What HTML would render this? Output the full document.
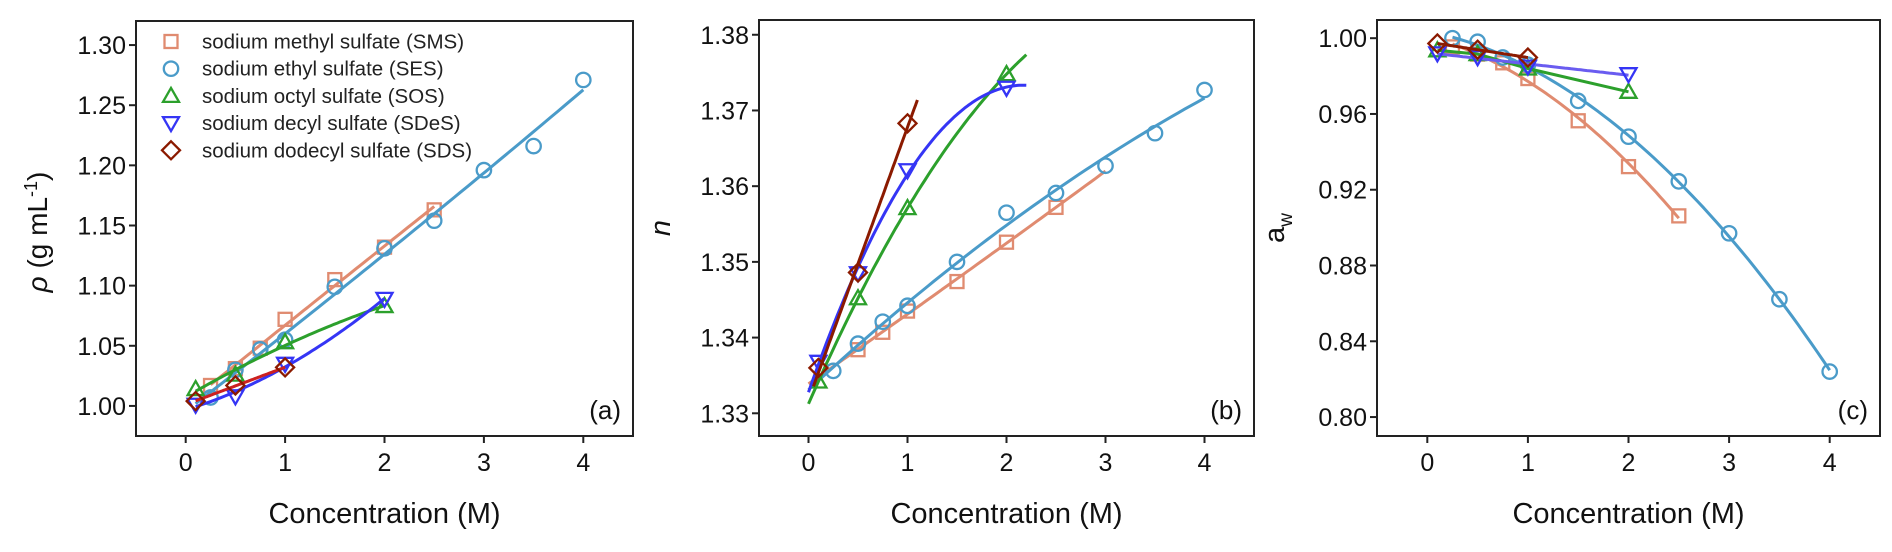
<!DOCTYPE html>
<html><head><meta charset="utf-8">
<style>
html,body{margin:0;padding:0;background:#fff;}
svg{display:block;font-family:"Liberation Sans",Arial,sans-serif;}
</style></head>
<body>
<svg id="fig" width="1892" height="552" viewBox="0 0 1892 552" xmlns="http://www.w3.org/2000/svg"></svg>
<script>
// ---------- data ----------
const seriesNames = ["sodium methyl sulfate (SMS)","sodium ethyl sulfate (SES)","sodium octyl sulfate (SOS)","sodium decyl sulfate (SDeS)","sodium dodecyl sulfate (SDS)"];
const seriesKeys = ["sms","ses","sos","sdes","sds"];
const xTicks = [0,1,2,3,4];
const aTicks = [1.00,1.05,1.10,1.15,1.20,1.25,1.30];
const bTicks = [1.33,1.34,1.35,1.36,1.37,1.38];
const cTicks = [0.80,0.84,0.88,0.92,0.96,1.00];

// panel (a) density
const aSmsX = [0.25,0.5,0.75,1,1.5,2,2.5];
const aSmsY = [1.017,1.031,1.048,1.072,1.105,1.132,1.163];
const aSesX = [0.25,0.5,0.75,1,1.5,2,2.5,3,3.5,4];
const aSesY = [1.007,1.030,1.047,1.055,1.099,1.131,1.154,1.196,1.216,1.271];
const aSosX = [0.1,0.5,1,2];
const aSosY = [1.014,1.026,1.053,1.083];
const aSdesX = [0.1,0.5,1,2];
const aSdesY = [1.001,1.008,1.035,1.089];
const aSdsX = [0.1,0.5,1];
const aSdsY = [1.004,1.017,1.032];

// panel (b) refractive index
const bSmsX = [0.5,0.75,1,1.5,2,2.5];
const bSmsY = [1.3384,1.3407,1.3435,1.3474,1.3526,1.3572];
const bSesX = [0.25,0.5,0.75,1,1.5,2,2.5,3,3.5,4];
const bSesY = [1.3356,1.3392,1.3421,1.3442,1.3500,1.3565,1.3591,1.3627,1.3670,1.3727];
const bSosX = [0.1,0.5,1,2];
const bSosY = [1.3342,1.3452,1.3571,1.3748];
const bSdesX = [0.1,0.5,1,2];
const bSdesY = [1.3368,1.3485,1.3621,1.3730];
const bSdsX = [0.1,0.5,1];
const bSdsY = [1.3360,1.3486,1.3683];

// panel (c) water activity
const cSmsX = [0.25,0.5,0.75,1,1.5,2,2.5];
const cSmsY = [0.9954,0.9916,0.9870,0.9787,0.9564,0.9322,0.9062];
const cSesX = [0.25,0.5,0.75,1,1.5,2,2.5,3,3.5,4];
const cSesY = [1.0000,0.9981,0.9898,0.9860,0.9669,0.9480,0.9244,0.8970,0.8622,0.8240];
const cSosX = [0.1,0.5,1,2];
const cSosY = [0.9936,0.9916,0.9840,0.9717];
const cSdesX = [0.1,0.5,1,2];
const cSdesY = [0.9920,0.9900,0.9850,0.9810];
const cSdsX = [0.1,0.5,1];
const cSdsY = [0.9972,0.9939,0.9898];

// ---------- rendering ----------
const NS = "http://www.w3.org/2000/svg";
const svg = document.getElementById("fig");
const colors = {sms:"#e08b70", ses:"#4a9bc9", sos:"#2ca02c", sdes:"#3535f5", sds:"#8b1a00"};
const lineColors = {sms:"#e08b70", ses:"#4a9bc9", sos:"#2ca02c", sdes:"#3535f5", sds:"#8b1a00"};
function mk(tag, attrs, parent){const e=document.createElementNS(NS,tag);for(const k in attrs)e.setAttribute(k,attrs[k]);(parent||svg).appendChild(e);return e;}

function polyfit(xs, ys, deg){
  const n=deg+1; const A=[];
  for(let i=0;i<n;i++){A.push(new Array(n+1).fill(0));}
  for(let k=0;k<xs.length;k++){
    for(let i=0;i<n;i++){
      for(let j=0;j<n;j++) A[i][j]+=Math.pow(xs[k],i+j);
      A[i][n]+=ys[k]*Math.pow(xs[k],i);
    }
  }
  for(let i=0;i<n;i++){
    let p=i;for(let r=i+1;r<n;r++) if(Math.abs(A[r][i])>Math.abs(A[p][i])) p=r;
    [A[i],A[p]]=[A[p],A[i]];
    for(let r=0;r<n;r++){ if(r===i) continue; const f=A[r][i]/A[i][i]; for(let c=i;c<=n;c++) A[r][c]-=f*A[i][c]; }
  }
  return A.map((row,i)=>row[n]/row[i]);
}
function evalp(c,x){let s=0;for(let i=0;i<c.length;i++) s+=c[i]*Math.pow(x,i);return s;}

function marker(g, key, px, py){
  const c=colors[key]; let e;
  if(key==="sms") e=mk("rect",{x:px-6.5,y:py-6.5,width:13,height:13,fill:"none",stroke:c,"stroke-width":2.3},g);
  else if(key==="ses") e=mk("circle",{cx:px,cy:py,r:7.2,fill:"none",stroke:c,"stroke-width":2.3},g);
  else if(key==="sos") e=mk("polygon",{points:`${px},${py-8} ${px+8},${py+6} ${px-8},${py+6}`,fill:"none",stroke:c,"stroke-width":2.3},g);
  else if(key==="sdes") e=mk("polygon",{points:`${px},${py+8} ${px+8},${py-6} ${px-8},${py-6}`,fill:"none",stroke:c,"stroke-width":2.3},g);
  else e=mk("polygon",{points:`${px},${py-9} ${px+9},${py} ${px},${py+9} ${px-9},${py}`,fill:"none",stroke:c,"stroke-width":2.3},g);
  
  
  return e;
}

function panel(cfg){
  const g=mk("g",{});
  
  
  const sx=v=>cfg.L+(v-cfg.xmin)/(cfg.xmax-cfg.xmin)*(cfg.R-cfg.L);
  const sy=v=>cfg.B-(v-cfg.ymin)/(cfg.ymax-cfg.ymin)*(cfg.B-cfg.T);
  xTicks.forEach(t=>{
    const x=sx(t);
    const l=mk("line",{x1:x,y1:cfg.B,x2:x,y2:cfg.B+7,stroke:"#222","stroke-width":2},g);
    
    
    const tx=mk("text",{x:x,y:cfg.B+35,"font-size":25,"text-anchor":"middle",fill:"#111"},g);
    tx.textContent=t;
    
    
  });
  cfg.yTicks.forEach(t=>{
    const y=sy(t);
    const l=mk("line",{x1:cfg.L-7,y1:y,x2:cfg.L,y2:y,stroke:"#222","stroke-width":2},g);
    
    
    const tx=mk("text",{x:cfg.L-10,y:y+9,"font-size":25,"text-anchor":"end",fill:"#111"},g);
    tx.textContent=t.toFixed(2);
    
    
  });
  cfg.series.forEach(s=>{
    const sg=mk("g",{},g);
    
    
    let pts=[];
    if(s.fit==="poly"){
      const coef=polyfit(s.x,s.y,s.deg);
      const x0=s.from!==undefined?s.from:s.x[0], x1=s.to!==undefined?s.to:s.x[s.x.length-1];
      for(let i=0;i<=60;i++){const xv=x0+(x1-x0)*i/60;pts.push(sx(xv).toFixed(1)+","+sy(evalp(coef,xv)).toFixed(1));}
    } else {
      pts=s.x.map((xv,i)=>sx(xv).toFixed(1)+","+sy(s.y[i]).toFixed(1));
    }
    const pl=mk("polyline",{points:pts.join(" "),fill:"none",stroke:s.lc||lineColors[s.key],"stroke-width":3,"stroke-linejoin":"round"},sg);
    
    
    s.x.forEach((xv,i)=>marker(sg,s.key,sx(xv),sy(s.y[i])));
  });
  const fr=mk("rect",{x:cfg.L,y:cfg.T,width:cfg.R-cfg.L,height:cfg.B-cfg.T,fill:"none",stroke:"#222","stroke-width":2},g);
  
  
  const pl=mk("text",{x:cfg.R-12,y:cfg.B-17,"font-size":26,"text-anchor":"end",fill:"#111"},g);
  pl.textContent=cfg.label;
  
  
  const xt=mk("text",{x:(cfg.L+cfg.R)/2,y:523,"font-size":29,"text-anchor":"middle",fill:"#111"},g);
  xt.textContent="Concentration (M)";
  
  
  return g;
}

panel({name:"panel-a-density",L:136,R:633,T:21,B:436,xmin:-0.5,xmax:4.5,ymin:0.975,ymax:1.32,yTicks:aTicks,label:"(a)",
  series:[
    {key:"sms",x:aSmsX,y:aSmsY,fit:"poly",deg:1},
    {key:"ses",x:aSesX,y:aSesY,fit:"poly",deg:2,from:0.1},
    {key:"sos",x:aSosX,y:aSosY,fit:"poly",deg:2},
    {key:"sdes",x:aSdesX,y:aSdesY,fit:"poly",deg:2},
    {key:"sds",x:aSdsX,y:aSdsY,fit:"poly",deg:1,lc:"#cc2020"}
  ]});
panel({name:"panel-b-refractive-index",L:759,R:1254,T:20,B:436,xmin:-0.5,xmax:4.5,ymin:1.327,ymax:1.38195,yTicks:bTicks,label:"(b)",
  series:[
    {key:"sms",x:bSmsX,y:bSmsY,fit:"poly",deg:2,from:0,to:3},
    {key:"ses",x:bSesX,y:bSesY,fit:"poly",deg:2,from:0,to:4},
    {key:"sos",x:bSosX,y:bSosY,fit:"poly",deg:2,from:0,to:2.2},
    {key:"sdes",x:bSdesX,y:bSdesY,fit:"poly",deg:2,from:0,to:2.2},
    {key:"sds",x:bSdsX,y:bSdsY,fit:"poly",deg:1,from:0.05,to:1.1}
  ]});
panel({name:"panel-c-water-activity",L:1377,R:1880,T:20,B:436,xmin:-0.5,xmax:4.5,ymin:0.790,ymax:1.0096,yTicks:cTicks,label:"(c)",
  series:[
    {key:"sms",x:cSmsX,y:cSmsY,fit:"poly",deg:2},
    {key:"ses",x:cSesX,y:cSesY,fit:"poly",deg:2},
    {key:"sos",x:cSosX,y:cSosY,fit:"line"},
    {key:"sdes",x:cSdesX,y:cSdesY,fit:"poly",deg:1,lc:"#6a5cf0"},
    {key:"sds",x:cSdsX,y:cSdsY,fit:"poly",deg:1}
  ]});

const lg=mk("g",{});


seriesNames.forEach((nm,i)=>{
  const y=41.5+i*27.2;
  const eg=mk("g",{},lg);
  
  
  marker(eg,seriesKeys[i],171,y);
  const t=mk("text",{x:202,y:y+7,"font-size":20.5,fill:"#222"},eg);
  t.textContent=nm;
  
  
});

const ya=mk("text",{transform:"translate(47,232) rotate(-90)","font-size":28,"text-anchor":"middle",fill:"#111"});
ya.innerHTML='<tspan font-style="italic">ρ</tspan> (g mL<tspan dy="-10" font-size="18">-1</tspan><tspan dy="10">)</tspan>';


const yb=mk("text",{transform:"translate(670,228) rotate(-90)","font-size":29,"text-anchor":"middle","font-style":"italic",fill:"#111"});
yb.textContent="n";


const yc=mk("text",{transform:"translate(1284,228) rotate(-90)","font-size":29,"text-anchor":"middle",fill:"#111"});
yc.innerHTML='a<tspan dy="8" font-size="19">w</tspan>';


</script>
</body></html>
